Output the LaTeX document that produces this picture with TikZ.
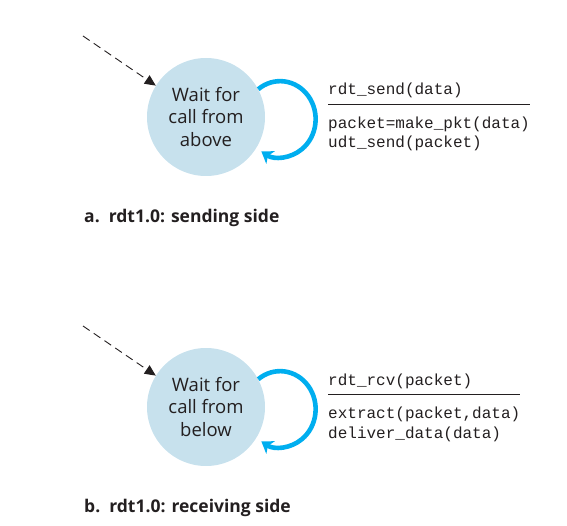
\documentclass[tikz,border=0pt]{standalone}
\usepackage{fontspec}
\setmainfont{Open Sans}
\setmonofont{Liberation Mono}
\usetikzlibrary{arrows.meta}

\definecolor{statefill}{RGB}{199,225,237}
\definecolor{loopblue}{RGB}{0,174,239}
\definecolor{ink}{RGB}{35,31,32}

\tikzset{
  state/.style={circle, fill=statefill, draw=none, inner sep=0pt,
    minimum size=118pt, align=center, text=ink,
    font=\fontsize{18.5}{22.5}\selectfont},
  initarrow/.style={draw=ink, line width=0.9pt, dash pattern=on 8pt off 5pt,
    -{Triangle[length=11pt,width=10pt]}},
  selfloop/.style={draw=loopblue, line width=4.6pt,
    -{Stealth[length=11pt,width=15pt,inset=3pt]}},
  codetext/.style={anchor=base west, inner sep=0pt, align=left, text=ink,
    font=\ttfamily\fontsize{16}{19.5}\selectfont},
  rule/.style={draw=ink, line width=0.9pt},
  caption/.style={anchor=base west, inner sep=0pt, text=ink,
    font=\bfseries\fontsize{17.5}{21}\selectfont},
}

\begin{document}
\begin{tikzpicture}[x=1pt, y=-1pt]
  \useasboundingbox (0,0) rectangle (567,526);

  % ---- sending side ----
  \node[state] (snd) at (206,117) {Wait for\\call from\\above};
  \coordinate (sndstart) at (83,36);
  \draw[initarrow] (sndstart) -- (snd.148);
  \draw[selfloop] (snd.28) arc[start angle=-128, end angle=122,
    x radius=35.5, y radius=38];
  \node[codetext] (sndev) at (328,95) {rdt\_send(data)};
  \node[codetext] (sndact) at (328,148) {packet=make\_pkt(data)\\udt\_send(packet)};
  \draw[rule] ([yshift=-9pt]sndev.base west)
    -- ([yshift=-9pt]sndev.base west -| sndact.east);
  \node[caption] (sndcap) at (84,223) {a.\hspace{9pt}rdt1.0: sending side};

  % ---- receiving side ----
  \node[state] (rcv) at (206,407) {Wait for\\call from\\below};
  \coordinate (rcvstart) at (83,326);
  \draw[initarrow] (rcvstart) -- (rcv.148);
  \draw[selfloop] (rcv.28) arc[start angle=-128, end angle=122,
    x radius=35.5, y radius=38];
  \node[codetext] (rcvev) at (328,385) {rdt\_rcv(packet)};
  \node[codetext] (rcvact) at (328,438) {extract(packet,data)\\deliver\_data(data)};
  \draw[rule] ([yshift=-9pt]rcvev.base west)
    -- ([yshift=-9pt]rcvev.base west -| rcvact.east);
  \node[caption] (rcvcap) at (84,512) {b.\hspace{9pt}rdt1.0: receiving side};
\end{tikzpicture}
\end{document}
